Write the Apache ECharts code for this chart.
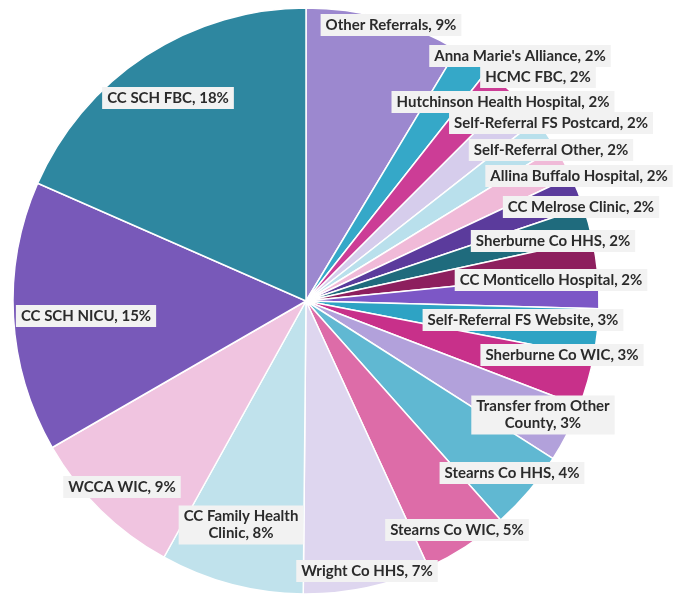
<!DOCTYPE html>
<html>
<head>
<meta charset="utf-8">
<title>Referral sources</title>
<script src="https://cdn.jsdelivr.net/npm/echarts@6/dist/echarts.min.js"></script>
<style>
    html, body { margin: 0; padding: 0; background: #fff; }
    #pie_map { width: 680px; height: 601px; }
</style>
</head>
<body>
<div id="pie_map"></div>
<script>
// 来源名称（顺时针，从12点开始）
var sourceNames = [
    'Other Referrals', "Anna Marie's Alliance", 'HCMC FBC', 'Hutchinson Health Hospital',
    'Self-Referral FS Postcard', 'Self-Referral Other', 'Allina Buffalo Hospital',
    'CC Melrose Clinic', 'Sherburne Co HHS', 'CC Monticello Hospital',
    'Self-Referral FS Website', 'Sherburne Co WIC', 'Transfer from Other County',
    'Stearns Co HHS', 'Stearns Co WIC', 'Wright Co HHS', 'CC Family Health Clinic',
    'WCCA WIC', 'CC SCH NICU', 'CC SCH FBC'
];
// 占比
var sourceShare = [8.6, 2.0, 1.9, 1.9, 1.8, 1.8, 1.8, 1.8, 1.8, 2.0,
    2.6, 2.8, 3.2, 4.4, 4.7, 7.0, 7.9, 8.6, 14.9, 18.4];

// 颜色
var sliceColors = [
    '#9c88cf', '#35a8c8', '#cc3d96', '#d6cdec', '#b9e0ec', '#f0bad8', '#5b3b9c',
    '#1f6b7d', '#8d1f5e', '#7c57c6', '#2ea3c4', '#c8308a', '#b2a1db', '#60b8d2',
    '#dd6ca8', '#ded6ef', '#c0e2ec', '#f0c4e0', '#7859b9', '#2e87a0'
];
// 标签中心位置（像素）
var labelPos = [
    [391, 25], [520, 56], [538, 77], [503, 102], [551, 123], [551, 150],
    [579, 176], [581, 207], [553, 241], [551, 280], [523, 320], [562, 355],
    [543, 415], [512, 473], [457, 530], [367, 571], [241, 525], [122, 487],
    [86, 316], [168, 98]
];
// 需要换行的标签
var labelBreak = {
    'Transfer from Other County': 'Transfer from Other\nCounty',
    'CC Family Health Clinic': 'CC Family Health\nClinic'
};

var pieData = [];
for (var i = 0; i < sourceNames.length; i++) {
    pieData.push({ name: sourceNames[i], value: sourceShare[i], itemStyle: { color: sliceColors[i] } });
}

var myChart = echarts.init(document.getElementById('pie_map'));
var option = {
    backgroundColor: '#fff',
    animation: false,
    series: [{
        type: 'pie',
        center: [306, 301],
        radius: 293,
        startAngle: 90,
        clockwise: true,
        avoidLabelOverlap: false,
        itemStyle: { borderColor: '#fff', borderWidth: 1.5 },
        label: {
            show: true,
            position: 'inside',
            fontFamily: 'Lato',
            fontWeight: 'bold',
            fontSize: 15,
            lineHeight: 17,
            color: '#2b2b2b',
            backgroundColor: '#f2f2f2',
            padding: [3, 5, 2, 5],
            align: 'center',
            formatter: function (p) {
                var nm = labelBreak[p.name] || p.name;
                return nm + ', ' + Math.round(p.percent) + '%';
            }
        },
        labelLine: { show: false },
        labelLayout: function (p) {
            var pos = labelPos[p.dataIndex];
            return { x: pos[0], y: pos[1], align: 'center', verticalAlign: 'middle' };
        },
        emphasis: { disabled: true },
        data: pieData
    }]
};
myChart.setOption(option);
</script>
</body>
</html>
